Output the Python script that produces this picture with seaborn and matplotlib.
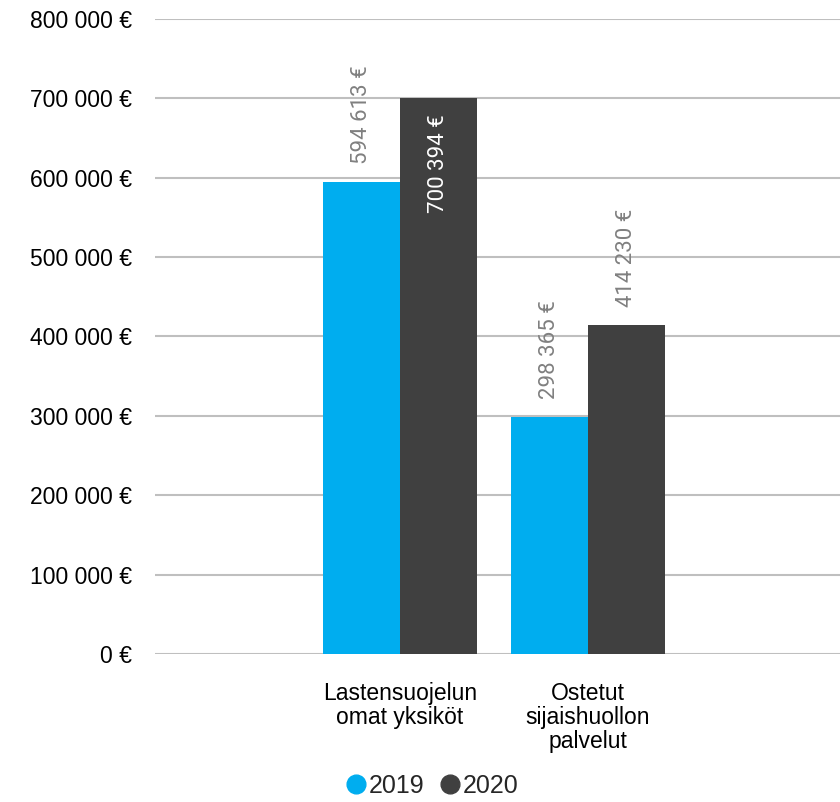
import matplotlib
matplotlib.use("Agg")
import matplotlib.pyplot as plt
import seaborn as sns
import pandas as pd
from matplotlib.lines import Line2D

categories = ["Lastensuojelun\nomat yksiköt", "Ostetut\nsijaishuollon\npalvelut"]
years = ["2019", "2020"]
values_2019 = [594613, 298365]
values_2020 = [700394, 414230]
y_ticks = [0, 100000, 200000, 300000, 400000, 500000, 600000, 700000, 800000]

colors = {"2019": "#00ADEF", "2020": "#404040"}

def fmt(v):
    return f"{v:,}".replace(",", " ") + " €"

rows = []
for c, a, b in zip(categories, values_2019, values_2020):
    rows.append({"cat": c, "year": "2019", "value": a})
    rows.append({"cat": c, "year": "2020", "value": b})
df = pd.DataFrame(rows)

sns.set_style("white")
plt.rcParams["font.family"] = ["Liberation Sans", "DejaVu Sans"]

fig = plt.figure(figsize=(8.4, 8.02), dpi=100)
ax = fig.add_axes([155 / 840, (802 - 654) / 802, (840 - 155) / 840, (654 - 19) / 802])

sns.barplot(data=df, x="cat", y="value", hue="year", hue_order=years,
            palette=colors, width=0.82, gap=0, dodge=True, ax=ax,
            legend=False, saturation=1, linewidth=0, edgecolor="none", zorder=3)

ax.set_ylim(0, 800000)
ax.set_xlim(-1.303, 2.34)
ax.set_yticks(y_ticks)
ax.set_yticklabels([fmt(v) if v else "0 €" for v in y_ticks])
ax.set_xlabel("")
ax.set_ylabel("")
for s in ax.spines.values():
    s.set_visible(False)
ax.yaxis.grid(True, color="#BFBFBF", linewidth=1.5, zorder=0)
ax.set_axisbelow(True)
ax.tick_params(axis="y", length=0, pad=16.5, labelsize=16.5, labelcolor="#000000")
ax.tick_params(axis="x", length=0, pad=20, labelsize=16.5, labelcolor="#000000")
for lab in ax.get_xticklabels():
    lab.set_linespacing(1.05)

label_font = ["Roboto", "DejaVu Sans"]
for container, yr in zip(ax.containers, years):
    for bar in container:
        h = bar.get_height()
        xc = bar.get_x() + bar.get_width() / 2
        txt = fmt(int(round(h)))
        if h > 650000:
            ax.annotate(txt, (xc, h), xytext=(0, -12), textcoords="offset points",
                        rotation=90, ha="center", va="top", color="white",
                        fontsize=16, family=label_font)
        else:
            ax.annotate(txt, (xc, h), xytext=(0, 13), textcoords="offset points",
                        rotation=90, ha="center", va="bottom", color="#808080",
                        fontsize=16, family=label_font)

handles = [Line2D([], [], marker="o", linestyle="", markersize=13.5,
                  markerfacecolor=colors[y], markeredgecolor=colors[y]) for y in years]
fig.legend(handles, years, loc="center", bbox_to_anchor=(431 / 840, 1 - 786 / 802),
           ncol=2, frameon=False, fontsize=18, handletextpad=0.0,
           columnspacing=0.55, handlelength=1.0, borderpad=0)

fig.savefig("out.png", dpi=100)
